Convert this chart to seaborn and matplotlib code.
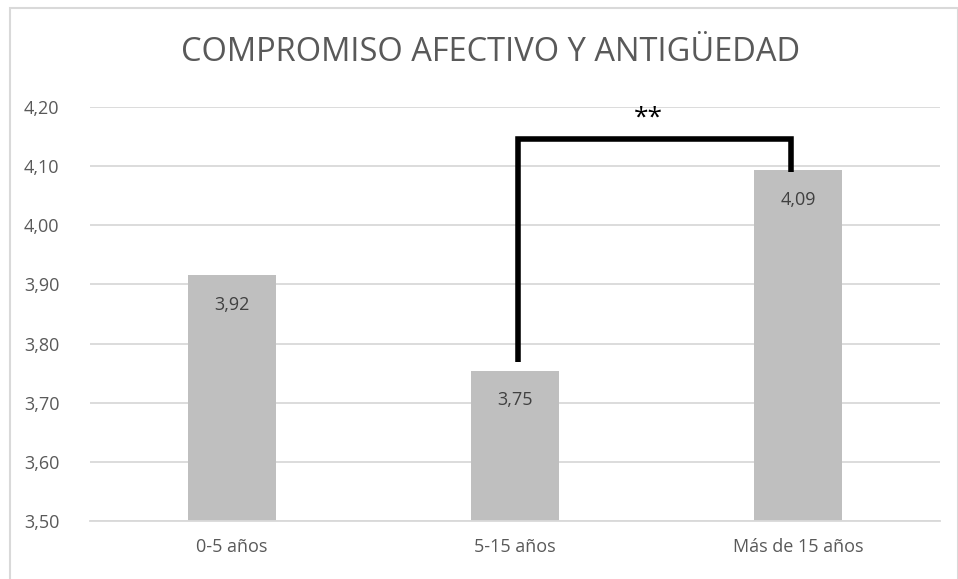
import numpy as np
import pandas as pd
import matplotlib
matplotlib.use("Agg")
import matplotlib.pyplot as plt
import seaborn as sns
from matplotlib.ticker import FuncFormatter

categorias = ["0-5 años", "5-15 años", "Más de 15 años"]
valores = [3.916, 3.754, 4.093]
etiquetas = ["3,92", "3,75", "4,09"]
ticks_y = [3.5, 3.6, 3.7, 3.8, 3.9, 4.0, 4.1, 4.2]
titulo = "COMPROMISO AFECTIVO Y ANTIGÜEDAD"

# bracket of significance between 5-15 and Más de 15
brk_x = [1.01, 1.01, 1.975, 1.975]
brk_y = [3.769, 4.146, 4.146, 4.09]

sns.set_theme(style="white")
plt.rcParams['font.family'] = ['Open Sans', 'DejaVu Sans']

df = pd.DataFrame({"cat": categorias, "val": valores})

fig = plt.figure(figsize=(9.58, 5.79), dpi=100)
ax = fig.add_axes([0.094, 0.1002, 0.887, 0.7150])

sns.barplot(data=df, x="cat", y="val", color="#bfbfbf", saturation=1,
            width=0.31, linewidth=0, ax=ax, zorder=2)

ax.set_xlim(-0.5, 2.5)
ax.set_ylim(3.5, 4.2)
ax.set_yticks(ticks_y)
ax.yaxis.set_major_formatter(FuncFormatter(lambda v, p: "{:.2f}".format(v).replace(".", ",")))
ax.grid(axis="y", color="#d9d9d9", linewidth=1.3, zorder=0)
ax.set_axisbelow(True)
for s in ["top", "right", "left"]:
    ax.spines[s].set_visible(False)
ax.spines["bottom"].set_color("#d9d9d9")
ax.spines["bottom"].set_linewidth(1.3)
ax.set_xlabel("")
ax.set_ylabel("")
ax.tick_params(axis="both", length=0, labelsize=13, labelcolor="#595959", pad=12)
ax.tick_params(axis="y", pad=22)

for i, (v, t) in enumerate(zip(valores, etiquetas)):
    ax.text(i, v - 0.05, t, ha="center", va="center", fontsize=13, color="#404040")

ax.plot(brk_x, brk_y, color="black", linewidth=4, solid_capstyle="butt",
        solid_joinstyle="miter", zorder=3)
ax.text(1.47, 4.16, "**", ha="center", va="bottom", fontsize=19, color="black")

fig.text(0.512, 0.91, titulo, ha="center", va="center", fontsize=23.5, color="#595959")

# outer chart border
fig.add_artist(plt.Rectangle((0.0105, -0.01), 0.99, 0.997, transform=fig.transFigure,
                             fill=False, edgecolor="#d9d9d9", linewidth=1.5))

fig.savefig("out.png", dpi=100)
